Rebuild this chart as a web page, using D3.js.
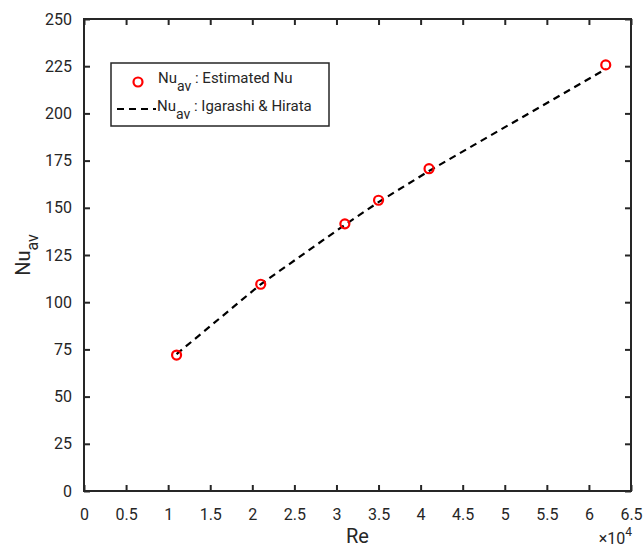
<!DOCTYPE html>
<html>
<head>
<meta charset="utf-8">
<script src="https://cdn.jsdelivr.net/npm/d3@7"></script>
<style>
  body { margin: 0; background: #fff; }
  svg text { font-family: "Liberation Sans Narrow", "Roboto", "Liberation Sans", sans-serif; fill: #262626; }
</style>
</head>
<body>
<div id="chart-area"></div>
<script>
// Re (x1e4) and Nu_av
var reValues = [1.1, 2.1, 3.1, 3.5, 4.1, 6.2];
var nuEstimated = [72, 109.5, 141.5, 154, 170.7, 225.7];
var nuIgarashi = [72.5, 109.5, 141, 153, 169.5, 223.5];
var xTicks = [0, 0.5, 1, 1.5, 2, 2.5, 3, 3.5, 4, 4.5, 5, 5.5, 6, 6.5];
var yTicks = [0, 25, 50, 75, 100, 125, 150, 175, 200, 225, 250];

var margin = { top: 19, right: 12, bottom: 59, left: 84 };
var width = 643 - margin.left - margin.right;
var height = 550 - margin.top - margin.bottom;

var svg = d3.select('#chart-area')
    .append('svg')
    .attr('width', 643)
    .attr('height', 550);

var g = svg.append('g')
    .attr('transform', 'translate(' + margin.left + ',' + margin.top + ')');

var x = d3.scaleLinear().domain([0, 6.5]).range([0, width]);
var y = d3.scaleLinear().domain([0, 250]).range([height, 0]);

// axes with inward ticks
var xAxisCall = d3.axisBottom(x).tickValues(xTicks).tickSize(-6).tickPadding(18).tickSizeOuter(0)
    .tickFormat(function (d) { return d; });
g.append('g')
    .attr('class', 'x-axis')
    .attr('transform', 'translate(0,' + height + ')')
    .call(xAxisCall);

var yAxisCall = d3.axisLeft(y).tickValues(yTicks).tickSize(-6).tickPadding(12).tickSizeOuter(0);
g.append('g')
    .attr('class', 'y-axis')
    .call(yAxisCall);

// mirrored ticks on top/right
g.append('g')
    .call(d3.axisTop(x).tickValues(xTicks).tickSize(-6).tickSizeOuter(0).tickFormat(''));
g.append('g')
    .attr('transform', 'translate(' + width + ',0)')
    .call(d3.axisRight(y).tickValues(yTicks).tickSize(-6).tickSizeOuter(0).tickFormat(''));

g.selectAll('.domain').remove();
g.selectAll('.tick line').attr('stroke', '#262626').attr('stroke-width', 2);
g.selectAll('.tick text').attr('font-size', 16);

g.append('rect')
    .attr('width', width)
    .attr('height', height)
    .attr('fill', 'none')
    .attr('stroke', '#262626')
    .attr('stroke-width', 2);

// axis labels
g.append('text')
    .attr('x', x(3.25))
    .attr('y', height + 52)
    .attr('text-anchor', 'middle')
    .attr('font-size', 20)
    .text('Re');

var mult = g.append('text')
    .attr('x', width + 1)
    .attr('y', height + 53)
    .attr('text-anchor', 'end')
    .attr('font-size', 16);
mult.append('tspan').text('\u00d710');
mult.append('tspan').attr('dy', -8).attr('font-size', 12).text('4');

var yl = g.append('text')
    .attr('transform', 'translate(-54,' + y(125) + ') rotate(-90)')
    .attr('text-anchor', 'middle')
    .attr('font-size', 20);
yl.append('tspan').text('Nu');
yl.append('tspan').attr('dy', 8).attr('font-size', 16).text('av');

// correlation line
var line = d3.line()
    .x(function (d, i) { return x(reValues[i]); })
    .y(function (d) { return y(d); });

g.append('path')
    .datum(nuIgarashi)
    .attr('d', line)
    .attr('fill', 'none')
    .attr('stroke', '#000')
    .attr('stroke-width', 2.2)
    .attr('stroke-dasharray', '7,5');

// estimated points
g.selectAll('circle.pt')
    .data(nuEstimated)
    .enter()
    .append('circle')
    .attr('class', 'pt')
    .attr('cx', function (d, i) { return x(reValues[i]); })
    .attr('cy', function (d) { return y(d); })
    .attr('r', 4.5)
    .attr('fill', 'none')
    .attr('stroke', '#ff0000')
    .attr('stroke-width', 2.2);

// legend
var leg = svg.append('g').attr('transform', 'translate(111,63)');
leg.append('rect')
    .attr('width', 218)
    .attr('height', 63)
    .attr('fill', '#fff')
    .attr('stroke', '#262626')
    .attr('stroke-width', 1.5);

leg.append('circle')
    .attr('cx', 27)
    .attr('cy', 19)
    .attr('r', 4.5)
    .attr('fill', 'none')
    .attr('stroke', '#ff0000')
    .attr('stroke-width', 2.2);

var t1 = leg.append('text').attr('x', 47).attr('y', 20).attr('font-size', 15);
t1.append('tspan').text('Nu');
t1.append('tspan').attr('dy', 8).attr('font-size', 14).text('av');
t1.append('tspan').attr('dy', -8).text(' : Estimated Nu');

leg.append('line')
    .attr('x1', 6).attr('x2', 45)
    .attr('y1', 46).attr('y2', 46)
    .attr('stroke', '#000')
    .attr('stroke-width', 2.2)
    .attr('stroke-dasharray', '7,5');

var t2 = leg.append('text').attr('x', 46).attr('y', 48).attr('font-size', 15);
t2.append('tspan').text('Nu');
t2.append('tspan').attr('dy', 8).attr('font-size', 14).text('av');
t2.append('tspan').attr('dy', -8).text('  : Igarashi & Hirata');
</script>
</body>
</html>
